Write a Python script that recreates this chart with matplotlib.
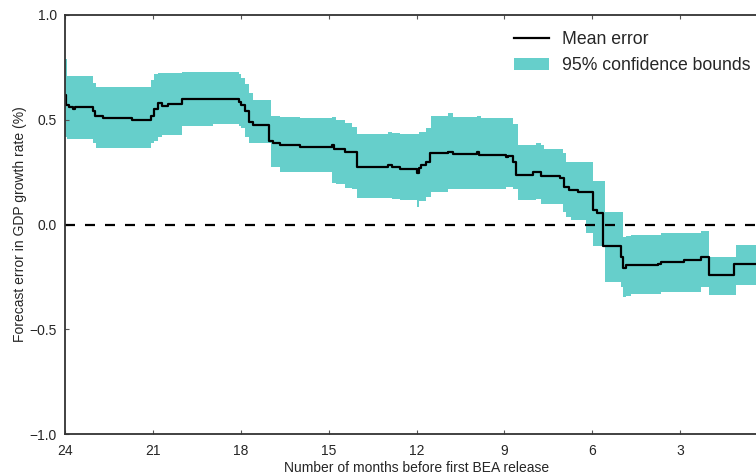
import matplotlib
matplotlib.use("Agg")
import matplotlib.pyplot as plt
import numpy as np
from matplotlib.lines import Line2D
from matplotlib.patches import Patch

plt.rcParams['font.family'] = ['Liberation Sans', 'DejaVu Sans']

# Mean error step series (months before release, value)
mean_months = [24.0, 23.95, 23.85, 23.73, 23.65, 23.04, 22.97, 22.70, 21.71, 21.06,
               20.95, 20.82, 20.68, 20.48, 20.0, 18.94, 18.05, 17.98, 17.85, 17.71,
               17.57, 17.03, 16.89, 16.65, 15.97, 14.87, 14.80, 14.43, 14.02, 12.99,
               12.82, 12.55, 11.97, 11.90, 11.83, 11.69, 11.55, 10.94, 10.74, 9.95,
               9.85, 8.96, 8.89, 8.72, 8.60, 8.03, 7.76, 7.10, 6.95, 6.80,
               6.50, 5.98, 5.85, 5.65, 5.03, 4.96, 4.85, 3.76, 3.66, 2.87,
               2.29, 2.02, 1.16, 0.0]
mean_vals = [0.62, 0.57, 0.56, 0.55, 0.56, 0.54, 0.52, 0.51, 0.50, 0.52,
             0.55, 0.58, 0.565, 0.575, 0.60, 0.598, 0.585, 0.57, 0.54, 0.49,
             0.475, 0.40, 0.39, 0.38, 0.37, 0.38, 0.36, 0.345, 0.275, 0.285,
             0.275, 0.265, 0.245, 0.27, 0.285, 0.30, 0.34, 0.345, 0.335, 0.345,
             0.33, 0.32, 0.325, 0.30, 0.235, 0.25, 0.23, 0.22, 0.18, 0.165,
             0.155, 0.07, 0.055, -0.105, -0.155, -0.21, -0.195, -0.19, -0.18, -0.17,
             -0.155, -0.24, -0.19, -0.185]

# 95% confidence band (shared months)
band_months = [24.0, 23.93, 23.04, 22.95, 21.06, 20.95, 20.82, 20.68, 20.0, 18.94,
               18.05, 17.98, 17.85, 17.71, 17.57, 17.03, 16.96, 16.65, 15.97, 14.87,
               14.74, 14.43, 14.20, 14.02, 12.99, 12.82, 12.55, 11.97, 11.90, 11.69,
               11.49, 10.94, 10.74, 9.95, 9.81, 8.96, 8.72, 8.55, 7.93, 7.76,
               7.66, 7.01, 6.91, 6.74, 6.20, 5.98, 5.57, 5.03, 4.96, 4.85,
               4.68, 3.66, 2.29, 2.02, 1.09, 0.0]
band_upper = [0.79, 0.71, 0.675, 0.655, 0.69, 0.72, 0.725, 0.725, 0.73, 0.73,
              0.72, 0.70, 0.67, 0.63, 0.595, 0.595, 0.52, 0.515, 0.51, 0.515,
              0.50, 0.485, 0.465, 0.43, 0.44, 0.435, 0.43, 0.43, 0.44, 0.46,
              0.52, 0.53, 0.515, 0.52, 0.51, 0.51, 0.48, 0.38, 0.39, 0.38,
              0.36, 0.34, 0.30, 0.30, 0.30, 0.21, 0.06, 0.06, -0.06, -0.055,
              -0.05, -0.04, -0.03, -0.155, -0.10, -0.10]
band_lower = [0.42, 0.41, 0.39, 0.365, 0.39, 0.40, 0.42, 0.425, 0.47, 0.48,
              0.47, 0.46, 0.42, 0.39, 0.39, 0.39, 0.275, 0.25, 0.25, 0.20,
              0.195, 0.175, 0.17, 0.125, 0.125, 0.12, 0.115, 0.085, 0.11, 0.13,
              0.155, 0.17, 0.17, 0.17, 0.17, 0.18, 0.17, 0.117, 0.12, 0.10,
              0.10, 0.06, 0.035, 0.02, -0.04, -0.105, -0.275, -0.30, -0.345, -0.34,
              -0.33, -0.32, -0.30, -0.335, -0.29, -0.29]

xticks = [24, 21, 18, 15, 12, 9, 6, 3]
yticks = [1.0, 0.5, 0.0, -0.5, -1.0]
ytick_labels = ['1.0', '0.5', '0.0', '\u22120.5', '\u22121.0']

W, H = 756, 476
fig = plt.figure(figsize=(W / 100, H / 100), dpi=100)
ax = fig.add_axes([65 / W, (H - 434) / H, (768 - 65) / W, (434 - 15) / H])

band_color = '#66CFCB'
ax.fill_between(band_months, band_lower, band_upper, step='post',
                color=band_color, linewidth=0)
ax.step(mean_months, mean_vals, where='post', color='black', lw=1.6)
ax.axhline(0, color='black', lw=1.6, ls=(0, (4.5, 4.5)))

ax.set_xlim(24, 0)
ax.set_ylim(-1, 1)
ax.set_xticks(xticks)
ax.set_xticklabels([str(t) for t in xticks])
ax.set_yticks(yticks)
ax.set_yticklabels(ytick_labels)

for s in ax.spines.values():
    s.set_color('#333333')
    s.set_linewidth(1.3)
ax.tick_params(axis='both', direction='in', length=3, width=0.8, color='#555555',
               labelsize=10, labelcolor='#262626', top=True, right=True)
ax.tick_params(axis='x', pad=7)
ax.tick_params(axis='y', pad=6)

ax.set_xlabel('Number of months before first BEA release', fontsize=10,
              color='#262626', labelpad=2)
ax.set_ylabel('Forecast error in GDP growth rate (%)', fontsize=10,
              color='#262626', labelpad=1.5)

handles = [Line2D([0], [0], color='black', lw=1.6),
           Patch(facecolor=band_color, edgecolor='none')]
leg = ax.legend(handles, ['Mean error', '95% confidence bounds'],
                loc='upper right', bbox_to_anchor=(758 / W, 1 - 24 / H),
                bbox_transform=fig.transFigure, frameon=False, fontsize=12.7,
                handlelength=2.0, handletextpad=0.75, labelspacing=0.5,
                borderaxespad=0)
for t in leg.get_texts():
    t.set_color('#262626')

fig.savefig('out.png', dpi=100)
